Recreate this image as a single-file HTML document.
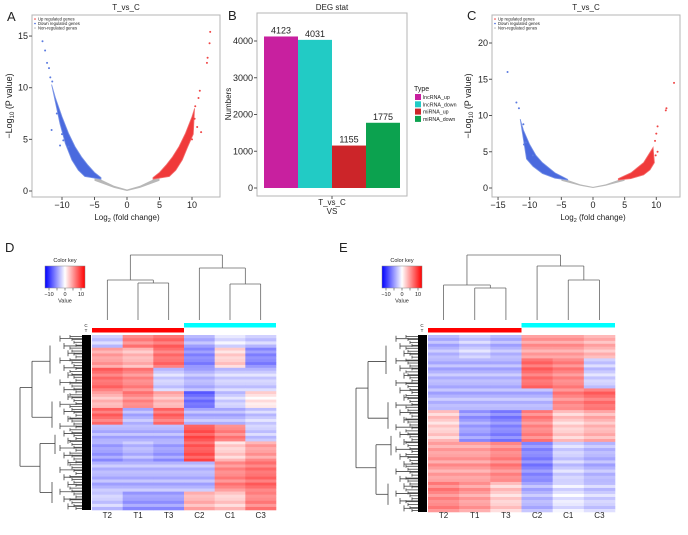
<!DOCTYPE html>
<html><head><meta charset="utf-8"><style>
body{margin:0;background:#fff}
svg{display:block;font-family:"Liberation Sans",sans-serif}
</style></head><body>
<svg id="fig" width="688" height="535" viewBox="0 0 688 535" xmlns="http://www.w3.org/2000/svg">
<g id="root"></g>
</svg>
<script>
// ---------- DATA ----------
// Panel A volcano
const aBlueOuter=[[-4,1.3],[-5,1.8],[-6,2.5],[-7,3.3],[-8,4.3],[-9,5.6],[-10,7.2],[-11,9],[-11.6,10.3]];
const aBlueInner=[[-10.3,6.5],[-9.5,4.6],[-8.5,3],[-7.5,2],[-6.5,1.4],[-5,1.25],[-4,1.15]];
const aRedOuter=[[4,1.3],[5,1.8],[6,2.5],[7,3.3],[8,4.3],[9,5.6],[10,7.2],[10.4,8]];
const aRedInner=[[10.2,5.5],[9.3,4.2],[8.5,3],[7.5,2],[6.5,1.4],[5,1.25],[4,1.15]];
const aBlueOut=[[-13,14.5],[-12.6,13.6],[-12.3,12.4],[-12,11.9],[-11.8,11],[-11.5,10.6],[-11.6,5.9],[-10,5.5],[-9.8,4.9],[-10.3,4.4],[-9,4.3],[-10.8,7.5]];
const aRedOut=[[12.8,15.4],[12.7,14.3],[12.4,12.9],[12.3,12.4],[11.2,9.7],[11,9],[10.5,8.2],[11.4,5.7],[10.8,6.2],[10,5],[10.4,7]];
const aXTicks=[-10,-5,0,5,10];
const aYTicks=[0,5,10,15];
// Panel C volcano
const cBlueOuter=[[-4,1.2],[-6,2.1],[-8,3.5],[-9,4.5],[-10,6],[-11,8],[-11.5,9.5]];
const cBlueInner=[[-10.5,4],[-9.5,3],[-8,2],[-6,1.35],[-4,1.1]];
const cRedOuter=[[4,1.3],[6,2.1],[8,3.5],[9.5,5.6]];
const cRedInner=[[9.7,3.5],[9,2.5],[8,1.8],[6,1.3],[4,1.1]];
const cBlueOut=[[-13.5,16],[-12.1,11.8],[-11.7,11],[-11,8.8],[-10.6,6.3],[-10.9,6],[-9.5,4.5]];
const cRedOut=[[12.8,14.5],[11.6,11],[11.5,10.7],[10.2,8.5],[10,7.5],[9.8,6.5],[10.2,5],[9.9,4.5]];
const cXTicks=[-15,-10,-5,0,5,10];
const cYTicks=[0,5,10,15,20];
// Panel B bars
const bCats=["lncRNA_up","lncRNA_down","miRNA_up","miRNA_down"];
const bVals=[4123,4031,1155,1775];
const bColors=["#C8209F","#22CBC5","#CC2529","#0CA24F"];
const bYTicks=[0,1000,2000,3000,4000];
// Heatmaps: columns and row blocks [weight, T2,T1,T3,C2,C1,C3]
const hmCols=["T2","T1","T3","C2","C1","C3"];
const dBlocks=[[38,-2,5,6,-3,-1,-2],[60,4,3,6,-5,2,-5],[70,6,5,-2,-3,-2,-2],[50,3,5,3,-6,-2,1],[50,6,-3,6,-3,-3,-2],[50,-3,-3,-3,7,5,-2],[60,-4,-3,-4,7,2,4],[90,-3,-3,-3,-3,5,6],[55,-2,-4,-4,3,2,5]];
const eBlocks=[[70,-3,-2,-3,4,4,3],[90,-3,-3,-3,6,5,-2],[65,-3,-3,-3,-3,5,6],[95,2,-4,-5,5,2,3],[120,4,4,5,-5,-2,-3],[90,5,4,2,-3,-1,-2]];
const stripe=[0,1.5,-1,2,0.5,-1.5,1,-0.5];

// ---------- HELPERS ----------
const NS="http://www.w3.org/2000/svg";
const root=document.getElementById('root');
function mk(tag,attrs,parent,text){const e=document.createElementNS(NS,tag);for(const k in attrs)e.setAttribute(k,attrs[k]);if(text!==undefined)e.textContent=text;(parent||root).appendChild(e);return e;}
function txt(x,y,s,size,anchor,name,extra){const e=mk('text',Object.assign({x:x,y:y,'font-size':size,'text-anchor':anchor||'start',fill:'#222'},extra||{}),root,s);


return e;}

// ---------- VOLCANO ----------
function volcano(o){
  const sx=v=>o.x0+o.kx*v, sy=v=>o.y0-o.ky*v;
  const f=mk('rect',{x:o.bx,y:o.by,width:o.bw,height:o.bh,fill:'none',stroke:'#b5b5b5','stroke-width':1});
  
  
  const pts=a=>a.map(p=>sx(p[0]).toFixed(1)+','+sy(p[1]).toFixed(1)).join(' ');
  const g=mk('polygon',{points:pts([[-5,1.4],[-2,0.5],[0,0.15],[2,0.5],[5,1.4],[5,1.0],[2,0.3],[0,0],[-2,0.3],[-5,1.0]]),fill:'#b8b8b8'});
  
  
  const b=mk('polygon',{points:pts(o.bo.concat(o.bi)),fill:'#4a6ade',stroke:'#7a94e6','stroke-width':0.8});
  
  
  const r=mk('polygon',{points:pts(o.ro.concat(o.ri)),fill:'#f03a3a',stroke:'#f37070','stroke-width':0.8});
  
  
  o.bout.forEach(p=>{const c=mk('circle',{cx:sx(p[0]),cy:sy(p[1]),r:1,fill:'#5a7ae0'});
    
    });
  o.rout.forEach(p=>{const c=mk('circle',{cx:sx(p[0]),cy:sy(p[1]),r:1,fill:'#f04545'});
    
    });
  o.xt.forEach(v=>{mk('line',{x1:sx(v),x2:sx(v),y1:o.by+o.bh,y2:o.by+o.bh+3,stroke:'#555'});
    txt(sx(v),o.by+o.bh+11,v<0?'−'+(-v):String(v),9,'middle',o.id+'-x-tick-label');});
  o.yt.forEach(v=>{mk('line',{x1:o.bx-3,x2:o.bx,y1:sy(v),y2:sy(v),stroke:'#555'});
    txt(o.bx-4,sy(v)+3,String(v),9,'end',o.id+'-y-tick-label');});
  txt(o.bx+o.bw/2,10,'T_vs_C',8,'middle',o.id+'-title');
  const xl=txt(sx(0),o.by+o.bh+23,'',8,'middle',o.id+'-x-axis-title');
  xl.innerHTML='Log<tspan font-size="5.5" dy="2">2</tspan><tspan dy="-2"> (fold change)</tspan>';
  const yl=txt(0,0,'',9,'middle',o.id+'-y-axis-title',{transform:'translate('+o.ylx+','+(o.by+o.bh/2)+') rotate(-90)'});
  yl.innerHTML='−Log<tspan font-size="6" dy="2">10</tspan><tspan dy="-2"> (P value)</tspan>';
  [['Up regulated genes','#f03a3a'],['Down regulated genes','#3f63dc'],['Non-regulated genes','#b8b8b8']].forEach((l,i)=>{
    const c=mk('circle',{cx:o.bx+3,cy:o.by+4+i*4.5,r:0.8,fill:l[1]});
    
    
    txt(o.bx+6,o.by+5.5+i*4.5,l[0],4.2,'start',o.id+'-legend-entry');});
}
volcano({id:'a',bx:32,by:15,bw:188,bh:182,x0:127,kx:6.5,y0:191,ky:10.33,bo:aBlueOuter,bi:aBlueInner,ro:aRedOuter,ri:aRedInner,bout:aBlueOut,rout:aRedOut,xt:aXTicks,yt:aYTicks,ylx:12});
volcano({id:'c',bx:492,by:15,bw:188,bh:182,x0:593,kx:6.33,y0:188,ky:7.25,bo:cBlueOuter,bi:cBlueInner,ro:cRedOuter,ri:cRedInner,bout:cBlueOut,rout:cRedOut,xt:cXTicks,yt:cYTicks,ylx:471});

// ---------- BAR CHART ----------
(function(){
  const bx=257,by=13,bw=150,bh=183;
  const sy=v=>188-v*0.03675;
  const f=mk('rect',{x:bx,y:by,width:bw,height:bh,fill:'none',stroke:'#b5b5b5'});
  
  
  const bwid=34,x0=264;
  bVals.forEach((v,i)=>{
    const r=mk('rect',{x:x0+i*bwid,y:sy(v),width:bwid,height:sy(0)-sy(v),fill:bColors[i]});
    
    
    txt(x0+i*bwid+bwid/2,sy(v)-3,String(v),9,'middle','bar-value-label');
  });
  bYTicks.forEach(v=>{mk('line',{x1:bx-3,x2:bx,y1:sy(v),y2:sy(v),stroke:'#555'});
    txt(bx-4,sy(v)+3,String(v),9,'end','b-y-tick-label');});
  mk('line',{x1:332,x2:332,y1:by+bh,y2:by+bh+3,stroke:'#555'});
  txt(332,205,'T_vs_C',8,'middle','b-x-tick-label');
  txt(332,214,'VS',8,'middle','b-x-axis-title');
  txt(332,10,'DEG stat',8,'middle','b-title');
  txt(0,0,'Numbers',8,'middle','b-y-axis-title',{transform:'translate(231,104) rotate(-90)'});
  txt(414,91,'Type',7,'start','legend-title');
  bCats.forEach((c,i)=>{
    const s=mk('rect',{x:415,y:94+i*7.3,width:6,height:6,fill:bColors[i]});
    
    
    txt(423,99+i*7.3,c,5.3,'start','legend-entry');
  });
})();

// ---------- HEATMAPS ----------
function col(v){const t=Math.min(1,Math.abs(v)/11);const w=Math.round(255*(1-t));
  return v>=0?'rgb(255,'+w+','+w+')':'rgb('+w+','+w+',255)';}
function heatmap(o){
  const cw=o.w/6;const total=o.blocks.reduce((s,b)=>s+b[0],0);
  let y=o.y;let si=0;
  o.blocks.forEach(b=>{
    const h=b[0]/total*o.h;const n=Math.max(2,Math.round(h/3));const rh=h/n;
    for(let k=0;k<n;k++){
      const d=stripe[si++%stripe.length];
      for(let c=0;c<6;c++){
        const r=mk('rect',{x:(o.x+c*cw).toFixed(2),y:(y+k*rh).toFixed(2),width:(cw+0.3).toFixed(2),height:(rh+0.3).toFixed(2),fill:col(b[c+1]+(b[c+1]>=0?d:-d)*0.6)});
        
        
      }
    }
    y+=h;
  });
  hmCols.forEach((c,i)=>txt(o.x+cw*i+cw/2,518,c,8,'middle',o.id+'-column-label'));
  const cy=mk('rect',{x:o.x+cw*3,y:323,width:cw*3,height:4.5,fill:'#00ffff'});
  
  
  const rd=mk('rect',{x:o.x,y:328,width:cw*3,height:4.5,fill:'#ff0000'});
  
  
  txt(o.x-6,327,'C',4.5,'middle',o.id+'-group-label-c');
  txt(o.x-6,332,'T',4.5,'middle',o.id+'-group-label-t');
  const cx=i=>o.x+cw*i+cw/2, L=320, ds=o.dend;
  const lines=[];
  const m13=(cx(1)+cx(2))/2, mT=(cx(0)+m13)/2, m45=(cx(4)+cx(5))/2, mC=(cx(3)+m45)/2;
  lines.push([cx(1),L,cx(1),ds[0]],[cx(2),L,cx(2),ds[0]],[cx(1),ds[0],cx(2),ds[0]]);
  lines.push([cx(0),L,cx(0),ds[1]],[m13,ds[0],m13,ds[1]],[cx(0),ds[1],m13,ds[1]]);
  lines.push([cx(4),L,cx(4),ds[2]],[cx(5),L,cx(5),ds[2]],[cx(4),ds[2],cx(5),ds[2]]);
  lines.push([cx(3),L,cx(3),ds[3]],[m45,ds[2],m45,ds[3]],[cx(3),ds[3],m45,ds[3]]);
  lines.push([mT,ds[1],mT,255],[mC,ds[3],mC,255],[mT,255,mC,255]);
  lines.forEach(l=>{const e=mk('line',{x1:l[0],y1:l[1],x2:l[2],y2:l[3],stroke:'#666','stroke-width':0.8});
    
    });
  // row dendrogram
  const blk=mk('rect',{x:o.x-10,y:o.y,width:9,height:o.h,fill:'#000'});
  
  
  const rx=o.x-72, yA=o.y+o.h*0.47, yC=o.y+o.h*0.22, yD=o.y+o.h*0.62, yE=o.y+o.h*0.9;
  const rl=[[rx,o.y+o.h*0.3,rx,o.y+o.h*0.75],[rx,o.y+o.h*0.3,rx+12,o.y+o.h*0.3],[rx,o.y+o.h*0.75,rx+20,o.y+o.h*0.75],
    [rx+12,o.y+o.h*0.15,rx+12,yA],[rx+20,yD,rx+20,yE],[rx+12,o.y+o.h*0.15,rx+30,o.y+o.h*0.15],[rx+12,yA,rx+32,yA],
    [rx+20,yD,rx+35,yD],[rx+20,yE,rx+32,yE],[rx+30,o.y+o.h*0.06,rx+30,yC],[rx+32,o.y+o.h*0.38,rx+32,o.y+o.h*0.53],
    [rx+35,o.y+o.h*0.57,rx+35,o.y+o.h*0.68],[rx+32,o.y+o.h*0.84,rx+32,o.y+o.h*0.96]];
  for(let i=0;i<24;i++){const yy=o.y+o.h*(i+0.5)/24;rl.push([rx+40+(i%3)*4,yy-3,rx+40+(i%3)*4,yy+3],[rx+40+(i%3)*4,yy,o.x-10,yy]);}
  for(let i=0;i<60;i++){const yy=o.y+o.h*(i+0.5)/60;const xs=o.x-22+(i%4)*2;rl.push([xs,yy-1.5,xs,yy+1.5],[xs,yy,o.x-10,yy]);}
  rl.forEach(l=>{const e=mk('line',{x1:l[0],y1:l[1],x2:l[2],y2:l[3],stroke:'#444','stroke-width':0.8});
    
    });
  const kx=o.kx, gid='grad'+o.id;
  const gr=mk('linearGradient',{id:gid,x1:0,x2:1,y1:0,y2:0});
  mk('stop',{offset:'0','stop-color':'#0000ff'},gr);mk('stop',{offset:'0.5','stop-color':'#ffffff'},gr);mk('stop',{offset:'1','stop-color':'#ff0000'},gr);
  const kr=mk('rect',{x:kx,y:266,width:40,height:22,fill:'url(#'+gid+')',stroke:'#888','stroke-width':0.5});
  
  
  [-10,-5,0,5,10].forEach(v=>mk('line',{x1:kx+20+v*1.6,x2:kx+20+v*1.6,y1:288,y2:290.5,stroke:'#444','stroke-width':0.6}));
  [-10,0,10].forEach(v=>txt(kx+20+v*1.6,296,v<0?'−10':String(v),5.5,'middle',o.id+'-color-key-tick'));
  txt(kx+20,302.5,'Value',5.5,'middle',o.id+'-color-key-axis-title');
  txt(kx+20,262,'Color key',5.5,'middle',o.id+'-color-key-title');
}
heatmap({id:'d',x:92,y:335,w:184,h:175,blocks:dBlocks,dend:[283,280,284,268],kx:45});
heatmap({id:'e',x:428,y:335,w:187,h:177,blocks:eBlocks,dend:[288,285,280,266],kx:382});

[['A',7,21],['B',228,20],['C',467,20],['D',5,252],['E',339,252]].forEach(p=>txt(p[1],p[2],p[0],13,'start','panel-label-'+p[0].toLowerCase()));
</script>
</body></html>
